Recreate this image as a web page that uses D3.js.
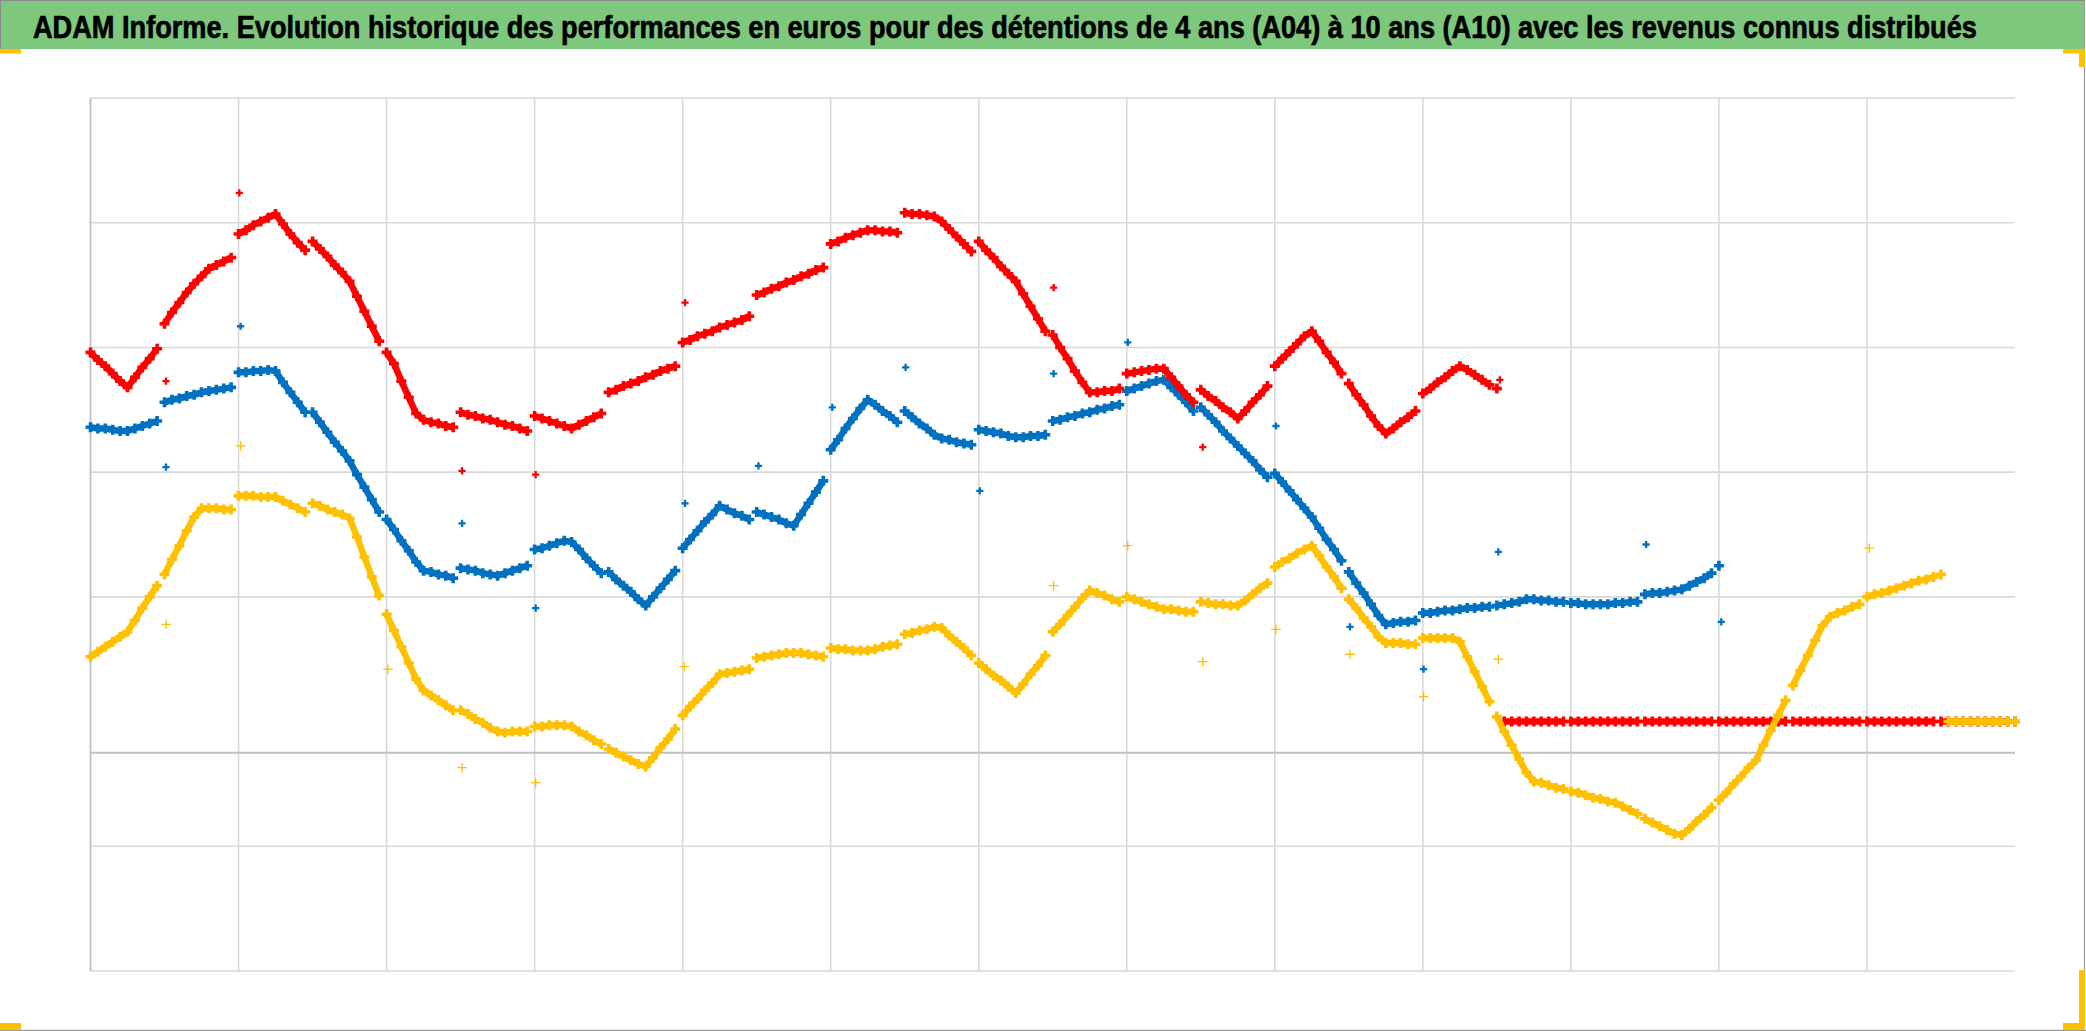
<!DOCTYPE html>
<html><head><meta charset="utf-8">
<script src="https://cdn.jsdelivr.net/npm/d3@7"></script>
<style>html,body{margin:0;padding:0;background:#fff;overflow:hidden}</style>
</head><body>
<svg id="chart" width="2086" height="1031"></svg>
<script>
// ---------- DATA ----------
const titleText = "ADAM Informe. Evolution historique des performances en euros pour des détentions de 4 ans (A04) à 10 ans (A10) avec les revenus connus distribués";

// sampling step (years) of the performance series, first sample at year 0
const STEP = 0.05;

// A04 (red) – values in thousands of euros
const redValues = [
3.21,3.15,3.10,3.04,2.98,2.93,3.01,3.09,3.16,3.24,
3.44,3.53,3.61,3.69,3.76,3.82,3.88,3.91,3.94,3.97,
4.16,4.19,4.23,4.26,4.29,4.32,4.24,4.16,4.09,4.03,
4.10,4.04,3.98,3.91,3.85,3.78,3.66,3.54,3.42,3.30,
3.21,3.12,2.98,2.85,2.72,2.67,2.65,2.64,2.62,2.61,
2.73,2.71,2.70,2.68,2.67,2.65,2.63,2.62,2.60,2.58,
2.70,2.68,2.66,2.64,2.62,2.60,2.63,2.66,2.69,2.72,
2.89,2.91,2.94,2.96,2.98,3.01,3.03,3.06,3.08,3.10,
3.29,3.31,3.34,3.36,3.38,3.41,3.43,3.45,3.47,3.50,
3.67,3.69,3.72,3.74,3.77,3.79,3.82,3.84,3.87,3.89,
4.08,4.10,4.13,4.15,4.17,4.19,4.19,4.18,4.18,4.17,
4.33,4.32,4.32,4.31,4.30,4.26,4.20,4.14,4.08,4.02,
4.10,4.03,3.97,3.90,3.84,3.78,3.68,3.58,3.48,3.38,
3.35,3.25,3.16,3.06,2.97,2.89,2.89,2.90,2.90,2.92,
3.04,3.05,3.06,3.07,3.08,3.08,3.01,2.94,2.87,2.81,
2.91,2.86,2.82,2.77,2.73,2.68,2.74,2.81,2.87,2.94,
3.10,3.16,3.22,3.28,3.34,3.38,3.30,3.21,3.13,3.04,
2.96,2.87,2.79,2.70,2.62,2.56,2.60,2.65,2.69,2.74,
2.88,2.92,2.97,3.01,3.06,3.10,3.07,3.03,2.99,2.95,
2.92,0.25,0.25,0.25,0.25,0.25,0.25,0.25,0.25,0.25,
0.25,0.25,0.25,0.25,0.25,0.25,0.25,0.25,0.25,0.25,
0.25,0.25,0.25,0.25,0.25,0.25,0.25,0.25,0.25,0.25,
0.25,0.25,0.25,0.25,0.25,0.25,0.25,0.25,0.25,0.25,
0.25,0.25,0.25,0.25,0.25,0.25,0.25,0.25,0.25,0.25,
0.25,0.25,0.25,0.25,0.25,0.25,0.25,0.25,0.25,0.25,
0.25,0.25,0.25,0.25,0.25,0.25,0.25,0.25,0.25,0.25,
0.25
];

// blue series
const blueValues = [
2.61,2.60,2.60,2.59,2.58,2.58,2.60,2.62,2.64,2.66,
2.81,2.83,2.84,2.86,2.87,2.89,2.90,2.91,2.92,2.93,
3.05,3.05,3.06,3.06,3.07,3.06,2.97,2.89,2.81,2.73,
2.73,2.65,2.57,2.49,2.42,2.34,2.23,2.13,2.03,1.93,
1.87,1.79,1.70,1.62,1.53,1.46,1.45,1.43,1.42,1.40,
1.48,1.47,1.46,1.44,1.43,1.42,1.44,1.46,1.48,1.50,
1.63,1.64,1.66,1.68,1.70,1.69,1.63,1.56,1.50,1.44,
1.45,1.39,1.34,1.29,1.23,1.18,1.25,1.32,1.39,1.46,
1.64,1.71,1.78,1.85,1.91,1.98,1.95,1.92,1.90,1.87,
1.93,1.91,1.89,1.87,1.84,1.82,1.91,2.00,2.09,2.18,
2.43,2.51,2.60,2.68,2.76,2.83,2.79,2.74,2.70,2.65,
2.74,2.69,2.64,2.60,2.55,2.52,2.51,2.49,2.48,2.47,
2.59,2.58,2.57,2.56,2.54,2.53,2.53,2.54,2.54,2.55,
2.66,2.67,2.69,2.70,2.72,2.73,2.75,2.76,2.78,2.79,
2.90,2.92,2.94,2.96,2.98,2.99,2.93,2.87,2.81,2.74,
2.77,2.71,2.65,2.58,2.52,2.46,2.40,2.34,2.27,2.21,
2.24,2.17,2.10,2.03,1.96,1.89,1.80,1.71,1.63,1.54,
1.45,1.36,1.28,1.19,1.10,1.03,1.04,1.05,1.05,1.06,
1.12,1.12,1.13,1.14,1.14,1.15,1.16,1.16,1.17,1.17,
1.18,1.19,1.20,1.21,1.23,1.23,1.22,1.22,1.21,1.21,
1.20,1.20,1.19,1.19,1.19,1.19,1.20,1.20,1.21,1.21,
1.27,1.28,1.28,1.29,1.30,1.31,1.34,1.37,1.40,1.44,
1.50
];

// A10 (yellow)
const yellowValues = [
0.77,0.81,0.85,0.89,0.93,0.97,1.06,1.16,1.25,1.34,
1.43,1.55,1.66,1.78,1.89,1.96,1.96,1.96,1.95,1.95,
2.06,2.06,2.06,2.05,2.05,2.05,2.02,1.99,1.96,1.93,
2.00,1.98,1.95,1.93,1.91,1.88,1.73,1.57,1.41,1.26,
1.11,0.98,0.85,0.72,0.59,0.50,0.46,0.42,0.38,0.34,
0.34,0.31,0.27,0.24,0.20,0.17,0.16,0.17,0.17,0.17,
0.21,0.21,0.22,0.22,0.22,0.21,0.17,0.14,0.10,0.07,
0.03,0.00,-0.03,-0.06,-0.09,-0.11,-0.04,0.04,0.11,0.19,
0.30,0.37,0.43,0.50,0.56,0.63,0.64,0.65,0.66,0.67,
0.76,0.77,0.78,0.79,0.80,0.80,0.80,0.79,0.78,0.77,
0.84,0.83,0.83,0.82,0.82,0.82,0.83,0.85,0.86,0.87,
0.95,0.96,0.98,0.99,1.01,1.00,0.94,0.89,0.84,0.78,
0.72,0.67,0.62,0.58,0.53,0.48,0.55,0.63,0.70,0.78,
0.97,1.03,1.10,1.17,1.24,1.30,1.28,1.26,1.23,1.21,
1.25,1.23,1.21,1.19,1.17,1.15,1.15,1.14,1.13,1.13,
1.21,1.20,1.19,1.19,1.18,1.18,1.22,1.27,1.32,1.36,
1.49,1.53,1.56,1.60,1.63,1.66,1.58,1.49,1.41,1.32,
1.23,1.16,1.08,1.01,0.93,0.88,0.88,0.88,0.87,0.87,
0.92,0.92,0.92,0.92,0.92,0.89,0.77,0.65,0.53,0.41,
0.29,0.17,0.06,-0.05,-0.16,-0.23,-0.24,-0.26,-0.28,-0.29,
-0.31,-0.32,-0.34,-0.36,-0.37,-0.39,-0.40,-0.43,-0.46,-0.49,
-0.53,-0.56,-0.59,-0.62,-0.65,-0.66,-0.61,-0.55,-0.50,-0.44,
-0.38,-0.32,-0.25,-0.19,-0.12,-0.06,0.06,0.18,0.30,0.42,
0.54,0.66,0.78,0.90,1.02,1.09,1.12,1.14,1.17,1.19,
1.25,1.27,1.28,1.30,1.32,1.34,1.36,1.38,1.39,1.41,
1.43,0.25,0.25,0.25,0.25,0.25,0.25,0.25,0.25,0.25,
0.25
];

// distributed revenues: [year, value]
const redRevenus = [[0.51,2.98],[1.005,4.49],[2.51,2.26],[3.007,2.23],[4.016,3.61],[6.506,3.73],[7.513,2.45],[9.52,2.99]];
const blueRevenus = [[0.51,2.29],[1.014,3.42],[2.51,1.84],[3.007,1.16],[4.016,2.00],[4.512,2.30],[5.011,2.77],[5.506,3.09],[6.007,2.10],[6.506,3.04],[7.007,3.29],[8.008,2.62],[8.508,1.01],[9.005,0.67],[9.51,1.61],[10.508,1.67],[11.016,1.05]];
const yellowRevenus = [[0.51,1.03],[1.014,2.46],[2.01,0.67],[2.51,-0.12],[3.007,-0.24],[4.011,0.69],[6.506,1.34],[7.007,1.66],[7.513,0.73],[8.008,0.99],[8.508,0.79],[9.005,0.45],[9.51,0.75],[12.016,1.64]];

const xDomain = [0, 13];
const yDomain = [-1.75, 5.25];
const xGridValues = [1,2,3,4,5,6,7,8,9,10,11,12];
const yGridValues = [-1.75,-0.75,1.25,2.25,3.25,4.25,5.25];
const yAxisValue = 0;
const SAMPLES_PER_HALF_YEAR = 10; // revenue distributions restart the curve every half year

// ---------- DRAW ----------
const svg = d3.select("#chart");
const W = 2086, H = 1031;
svg.append("rect").attr("width", W).attr("height", H).attr("fill", "#ffffff");

// banner
svg.append("rect").attr("x", 0).attr("y", 0).attr("width", 2084).attr("height", 49)
  .attr("fill", "#7DC87D");
svg.append("line").attr("x1", 0).attr("x2", 2084).attr("y1", 0.5).attr("y2", 0.5)
  .attr("stroke", "#8a8a8a").attr("stroke-width", 1);
const title = svg.append("text").attr("x", 0).attr("y", 0)
  .attr("font-family", "'Liberation Sans Narrow','Liberation Sans',Arial,sans-serif")
  .attr("font-weight", "bold").attr("font-size", 32).attr("fill", "#000")
  .attr("stroke", "#000").attr("stroke-width", 0.6)
  .text(titleText);
const natural = title.node().getComputedTextLength();
const targetW = 1945;
const fs = 32 * targetW / natural;
title.attr("font-size", fs);
const sy = 22.5 / (0.716 * fs);
title.attr("transform", `translate(33,38) scale(1,${sy})`);

const x = d3.scaleLinear().domain(xDomain).range([90.5, 2015]);
const y = d3.scaleLinear().domain(yDomain).range([971, 98]);

const grid = svg.append("g");
grid.selectAll("line.h").data(yGridValues).join("line").attr("class", "h")
  .attr("x1", x(xDomain[0])).attr("x2", x(xDomain[1]))
  .attr("y1", d => y(d)).attr("y2", d => y(d))
  .attr("stroke", "#D9D9D9").attr("stroke-width", 1.6);
grid.selectAll("line.v").data(xGridValues).join("line").attr("class", "v")
  .attr("x1", d => x(d)).attr("x2", d => x(d))
  .attr("y1", y(yDomain[0])).attr("y2", y(yDomain[1]))
  .attr("stroke", "#D9D9D9").attr("stroke-width", 1.6);
grid.append("line").attr("x1", x(xDomain[0])).attr("x2", x(xDomain[1]))
  .attr("y1", y(yAxisValue)).attr("y2", y(yAxisValue))
  .attr("stroke", "#BFBFBF").attr("stroke-width", 2);
grid.append("line").attr("x1", x(xDomain[0])).attr("x2", x(xDomain[0]))
  .attr("y1", y(yDomain[0])).attr("y2", y(yDomain[1]))
  .attr("stroke", "#BFBFBF").attr("stroke-width", 1.8);

// plus marker with arm width a, total width w
function plusPath(w, a) {
  const h = w / 2, b = a / 2;
  return `M${-h},${-b}H${-b}V${-h}H${b}V${-b}H${h}V${b}H${b}V${h}H${-b}V${b}H${-h}Z`;
}
const crossMain = plusPath(10, 3.6);

function drawSeries(values, color) {
  const pts = values.map((v, i) => ({ t: i * STEP, v, i }));
  // dense band: connect consecutive samples inside each half-year block
  const segs = [];
  let cur = [];
  pts.forEach((p, k) => {
    if (k > 0 && (p.i % SAMPLES_PER_HALF_YEAR === 0 || Math.abs(p.v - pts[k - 1].v) > 0.5)) {
      segs.push(cur); cur = [];
    }
    cur.push(p);
  });
  segs.push(cur);
  const line = d3.line().x(d => x(d.t)).y(d => y(d.v));
  const g = svg.append("g");
  g.selectAll("path.band").data(segs.filter(s => s.length > 1)).join("path").attr("class", "band")
    .attr("d", line).attr("fill", "none").attr("stroke", color)
    .attr("stroke-width", 6.5).attr("stroke-linejoin", "round");
  g.selectAll("path.mk").data(pts).join("path").attr("class", "mk")
    .attr("d", crossMain)
    .attr("transform", d => `translate(${x(d.t)},${y(d.v)})`)
    .attr("fill", color);
}
function drawRevenus(pts, color, half, sw) {
  svg.append("g").selectAll("path").data(pts).join("path")
    .attr("d", `M${-half},0H${half}M0,${-half}V${half}`)
    .attr("transform", d => `translate(${x(d[0])},${y(d[1])})`)
    .attr("stroke", color).attr("stroke-width", sw).attr("fill", "none");
}
drawSeries(blueValues, "#0070C0");
drawSeries(redValues, "#FF0000");
drawSeries(yellowValues, "#FFC000");
drawRevenus(redRevenus, "#FF0000", 3.6, 2.3);
drawRevenus(blueRevenus, "#0070C0", 3.6, 2.3);
drawRevenus(yellowRevenus, "#FFC000", 4.8, 1.3);

// frame and selection corners
svg.append("line").attr("x1", 2084.5).attr("x2", 2084.5).attr("y1", 0).attr("y2", 1031)
  .attr("stroke", "#9a9a9a").attr("stroke-width", 1.2);
svg.append("line").attr("x1", 0).attr("x2", 2086).attr("y1", 1030.3).attr("y2", 1030.3)
  .attr("stroke", "#9a9a9a").attr("stroke-width", 1.2);
svg.append("line").attr("x1", 0.5).attr("x2", 0.5).attr("y1", 0).attr("y2", 49)
  .attr("stroke", "#8a8a8a").attr("stroke-width", 1);
const orange = "#FFC000";
svg.append("rect").attr("x", 0).attr("y", 49).attr("width", 21).attr("height", 4.5).attr("fill", orange);
svg.append("rect").attr("x", 0).attr("y", 1023).attr("width", 21).attr("height", 7).attr("fill", orange);
svg.append("rect").attr("x", 2063).attr("y", 49).attr("width", 22).attr("height", 4.5).attr("fill", orange);
svg.append("rect").attr("x", 2079).attr("y", 49).attr("width", 6).attr("height", 18).attr("fill", orange);
svg.append("rect").attr("x", 2079).attr("y", 970).attr("width", 6).attr("height", 60).attr("fill", orange);
svg.append("rect").attr("x", 2063).attr("y", 1023).attr("width", 22).attr("height", 7).attr("fill", orange);
</script>
</body></html>
